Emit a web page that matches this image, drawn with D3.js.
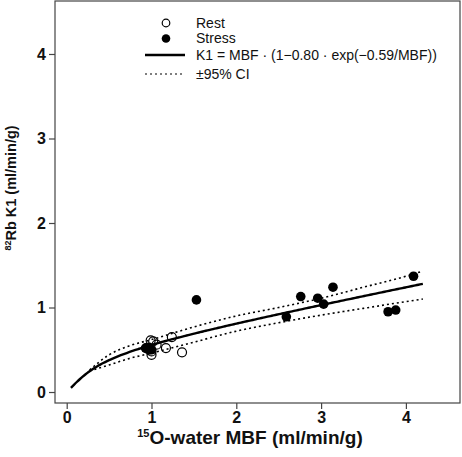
<!DOCTYPE html>
<html><head><meta charset="utf-8">
<script src="https://cdn.jsdelivr.net/npm/d3@7"></script>
<style>body{margin:0;background:#fff}svg{display:block}</style>
</head><body>
<svg id="c" width="462" height="457"></svg>
<script>
// ---- data ----
const restX   = [0.94, 0.97, 0.99, 1.00, 1.00, 1.02, 1.06, 1.17, 1.24, 1.36];
const restY   = [0.52, 0.50, 0.61, 0.44, 0.48, 0.60, 0.56, 0.52, 0.65, 0.47];
const stressX = [0.93, 0.97, 1.00, 1.53, 2.59, 2.76, 2.96, 3.03, 3.14, 3.79, 3.88, 4.09];
const stressY = [0.52, 0.53, 0.50, 1.09, 0.89, 1.13, 1.11, 1.04, 1.24, 0.95, 0.97, 1.37];
const fitE = 0.80, fitF = 0.59;            // K1 = MBF·(1−E·exp(−F/MBF))
const fitRange = [0.05, 4.2];
const ciX     = [0.27, 0.5, 0.75, 1.0, 1.5, 2.0, 2.5, 3.0, 3.5, 4.0, 4.2];
const ciUpper = [0.26, 0.44, 0.55, 0.62, 0.77, 0.90, 1.00, 1.11, 1.24, 1.37, 1.43];
const ciLower = [0.25, 0.32, 0.40, 0.46, 0.59, 0.72, 0.82, 0.91, 0.99, 1.07, 1.10];
const xTicks = [0, 1, 2, 3, 4];
const yTicks = [0, 1, 2, 3, 4];
const legendLabels = ["Rest", "Stress", "K1 = MBF \u00b7 (1\u22120.80 \u00b7 exp(\u22120.59/MBF))", "\u00b195% CI"];

// ---- layout ----
const svg = d3.select("#c");
const L = 55, R = 460, T = 1, B = 403;
const x = d3.scaleLinear().domain([-0.138, 4.638]).range([L, R]);
const y = d3.scaleLinear().domain([-0.130, 4.627]).range([B, T]);
const font = "'Liberation Sans', Arial, Helvetica, sans-serif";
const axisCol = "#444";

svg.append("rect").attr("x", L).attr("y", T).attr("width", R - L).attr("height", B - T)
  .attr("fill", "none").attr("stroke", axisCol).attr("stroke-width", 1.2);

const xAxis = svg.append("g").attr("transform", `translate(0,${B})`)
  .call(d3.axisBottom(x).tickValues(xTicks).tickSize(6).tickPadding(3).tickFormat(d3.format("d")));
const yAxis = svg.append("g").attr("transform", `translate(${L},0)`)
  .call(d3.axisLeft(y).tickValues(yTicks).tickSize(6).tickPadding(3).tickFormat(d3.format("d")));
[xAxis, yAxis].forEach(g => {
  g.select(".domain").remove();
  g.selectAll(".tick line").attr("stroke", axisCol).attr("stroke-width", 1.2);
  g.selectAll(".tick text").attr("font-family", font).attr("font-size", 16)
    .attr("font-weight", "bold").attr("fill", "#111");
});

// axis titles
const xt = svg.append("text").attr("x", 250).attr("y", 444).attr("text-anchor", "middle")
  .attr("font-family", font).attr("font-size", 19).attr("font-weight", "bold").attr("fill", "#111");
xt.append("tspan").attr("font-size", 11).attr("dy", -7).text("15");
xt.append("tspan").attr("dy", 7).text("O-water MBF (ml/min/g)");

const yt = svg.append("text").attr("transform", `translate(16,188) rotate(-90)`)
  .attr("text-anchor", "middle").attr("font-family", font).attr("font-size", 14.5)
  .attr("font-weight", "bold").attr("fill", "#111");
yt.append("tspan").attr("font-size", 9).attr("dy", -5.5).text("82");
yt.append("tspan").attr("dy", 5.5).text("Rb K1 (ml/min/g)");

// CI lines
const line = d3.line().x(d => x(d[0])).y(d => y(d[1])).curve(d3.curveMonotoneX);
[ciUpper, ciLower].forEach(arr => {
  svg.append("path").datum(ciX.map((v, i) => [v, arr[i]])).attr("d", line)
    .attr("fill", "none").attr("stroke", "#000").attr("stroke-width", 1.6).attr("stroke-dasharray", "2,3");
});

// fitted curve (model stated in the legend)
const fitPts = d3.range(0, 121).map(i => {
  const m = fitRange[0] + (fitRange[1] - fitRange[0]) * i / 120;
  return [m, m * (1 - fitE * Math.exp(-fitF / m))];
});
svg.append("path").datum(fitPts).attr("d", line)
  .attr("fill", "none").attr("stroke", "#000").attr("stroke-width", 2.4);

// points
svg.append("g").selectAll("circle").data(stressX.map((v, i) => [v, stressY[i]])).join("circle")
  .attr("cx", d => x(d[0])).attr("cy", d => y(d[1])).attr("r", 4.8).attr("fill", "#000");
svg.append("g").selectAll("circle").data(restX.map((v, i) => [v, restY[i]])).join("circle")
  .attr("cx", d => x(d[0])).attr("cy", d => y(d[1])).attr("r", 4.5)
  .attr("fill", "none").attr("stroke", "#000").attr("stroke-width", 1.2);

// legend
const lg = svg.append("g");
const rowsY = [23, 38.5, 55, 74];
lg.append("circle").attr("cx", 166).attr("cy", rowsY[0]).attr("r", 3.8)
  .attr("fill", "none").attr("stroke", "#000").attr("stroke-width", 1.2);
lg.append("circle").attr("cx", 166).attr("cy", rowsY[1]).attr("r", 4.3).attr("fill", "#000");
lg.append("line").attr("x1", 145).attr("x2", 185).attr("y1", rowsY[2]).attr("y2", rowsY[2])
  .attr("stroke", "#000").attr("stroke-width", 2.4);
lg.append("line").attr("x1", 145).attr("x2", 185).attr("y1", rowsY[3]).attr("y2", rowsY[3])
  .attr("stroke", "#000").attr("stroke-width", 1.2).attr("stroke-dasharray", "2,3");
legendLabels.forEach((t, i) => {
  lg.append("text").attr("x", 196).attr("y", rowsY[i]).attr("dy", "0.35em")
    .attr("font-family", font).attr("font-size", 14).attr("fill", "#111").text(t);
});
</script>
</body></html>
